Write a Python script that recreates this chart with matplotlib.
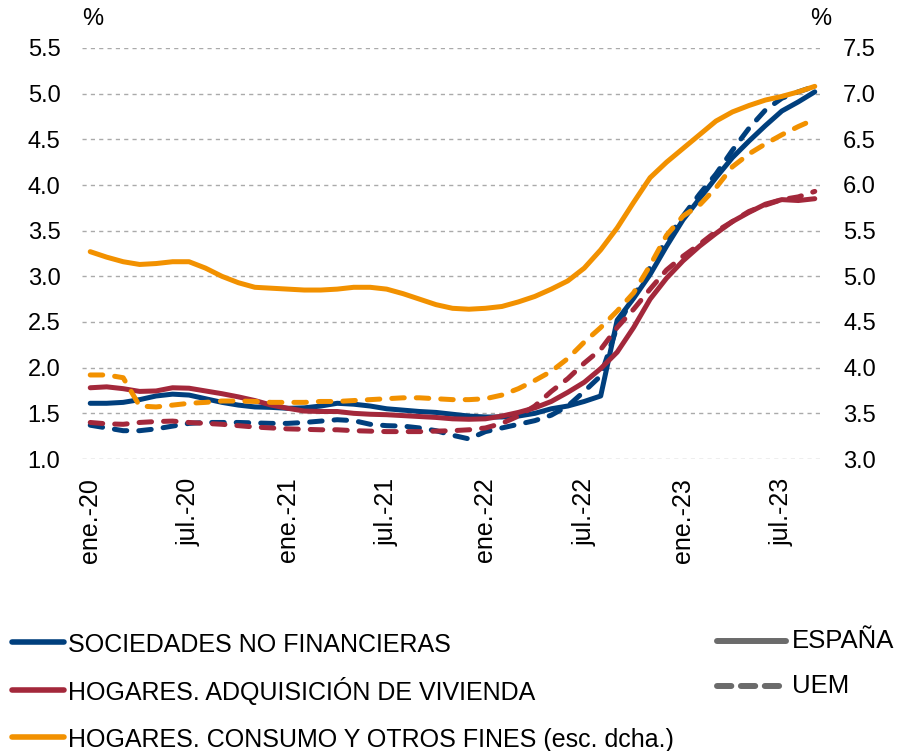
import matplotlib.pyplot as plt
from matplotlib.lines import Line2D
import numpy as np

plt.rcParams['font.family'] = ['Liberation Sans', 'DejaVu Sans']

# monthly, ene.-20 .. sep.-23
months = np.arange(45)
tick_pos = [0, 6, 12, 18, 24, 30, 36, 42]
tick_labels = ['ene.-20', 'jul.-20', 'ene.-21', 'jul.-21',
               'ene.-22', 'jul.-22', 'ene.-23', 'jul.-23']

# left axis (%)
snf_es = [1.61, 1.61, 1.62, 1.65, 1.69, 1.71, 1.70, 1.66, 1.62, 1.59,
          1.57, 1.565, 1.555, 1.56, 1.58, 1.61, 1.60, 1.58, 1.55, 1.535,
          1.52, 1.51, 1.49, 1.47, 1.46, 1.46, 1.47, 1.50, 1.55, 1.58,
          1.63, 1.69, 2.52, 2.76, 3.02, 3.33, 3.62, 3.85, 4.08, 4.30,
          4.48, 4.65, 4.81, 4.91, 5.02]
snf_uem = [1.37, 1.34, 1.31, 1.31, 1.33, 1.36, 1.39, 1.40, 1.40, 1.40,
           1.395, 1.39, 1.39, 1.40, 1.415, 1.43, 1.42, 1.38, 1.365, 1.36,
           1.34, 1.31, 1.26, 1.22, 1.30, 1.34, 1.38, 1.42, 1.48, 1.58,
           1.74, 1.91, 2.45, 2.78, 3.10, 3.40, 3.66, 3.90, 4.12, 4.38,
           4.62, 4.82, 4.95, 5.02, 5.08]
viv_es = [1.78, 1.79, 1.77, 1.74, 1.745, 1.78, 1.775, 1.745, 1.715, 1.68,
          1.64, 1.59, 1.555, 1.525, 1.52, 1.52, 1.50, 1.49, 1.485, 1.475,
          1.465, 1.455, 1.44, 1.435, 1.44, 1.47, 1.51, 1.56, 1.63, 1.73,
          1.84, 1.99, 2.17, 2.44, 2.75, 2.98, 3.17, 3.33, 3.47, 3.60,
          3.70, 3.79, 3.84, 3.83, 3.85]
viv_uem = [1.40, 1.385, 1.38, 1.40, 1.41, 1.415, 1.40, 1.39, 1.38, 1.365,
           1.35, 1.34, 1.33, 1.325, 1.32, 1.32, 1.31, 1.305, 1.30, 1.30,
           1.30, 1.305, 1.31, 1.32, 1.34, 1.39, 1.47, 1.58, 1.74, 1.88,
           2.05, 2.20, 2.44, 2.64, 2.86, 3.07, 3.22, 3.35, 3.49, 3.60,
           3.71, 3.78, 3.84, 3.87, 3.93]

# right axis (%)
cons_es = [5.27, 5.21, 5.16, 5.13, 5.14, 5.16, 5.16, 5.09, 5.00, 4.93,
           4.88, 4.87, 4.86, 4.85, 4.85, 4.86, 4.88, 4.88, 4.86, 4.81,
           4.75, 4.69, 4.65, 4.64, 4.65, 4.67, 4.72, 4.78, 4.86, 4.95,
           5.09, 5.29, 5.53, 5.81, 6.08, 6.25, 6.40, 6.55, 6.70, 6.80,
           6.87, 6.93, 6.97, 7.02, 7.08]
cons_uem = [3.92, 3.92, 3.89, 3.58, 3.57, 3.59, 3.61, 3.62, 3.635, 3.635,
            3.63, 3.62, 3.62, 3.62, 3.63, 3.63, 3.64, 3.65, 3.66, 3.67,
            3.67, 3.66, 3.65, 3.65, 3.66, 3.70, 3.77, 3.86, 3.96, 4.10,
            4.28, 4.44, 4.62, 4.82, 5.12, 5.45, 5.66, 5.78, 5.97, 6.20,
            6.34, 6.45, 6.55, 6.64, 6.72]

blue = '#003F7D'
red = '#A3283B'
orange = '#F29100'
grey = '#6B6B6B'
lw = 3.6
dash = (2.5, 2.4)

fig = plt.figure(figsize=(9, 7.51), dpi=100)
ax = fig.add_axes([82/900, 1 - 459/751, (823 - 82)/900, (459 - 48)/751])
ax2 = ax.twinx()

ax.plot(months, snf_es, color=blue, lw=lw, solid_capstyle='round')
ax.plot(months, snf_uem, color=blue, lw=lw, dashes=dash, dash_capstyle='round')
ax.plot(months, viv_es, color=red, lw=lw, solid_capstyle='round')
ax.plot(months, viv_uem, color=red, lw=lw, dashes=dash, dash_capstyle='round')
ax2.plot(months, cons_uem, color=orange, lw=lw, dashes=dash, dash_capstyle='round')
ax2.plot(months, cons_es, color=orange, lw=lw, solid_capstyle='round')

ax.set_xlim(-0.5, 44.5)
ax.set_ylim(1.0, 5.5)
ax2.set_ylim(3.0, 7.5)
ax.set_yticks(np.arange(1.0, 5.51, 0.5))
ax2.set_yticks(np.arange(3.0, 7.51, 0.5))
ax.yaxis.set_major_formatter('{x:.1f}')
ax2.yaxis.set_major_formatter('{x:.1f}')
ax.set_xticks(tick_pos)
ax.set_xticklabels(tick_labels, rotation=90)

ax.grid(axis='y', color='#AAAAAA', lw=1.0, ls=(0, (3, 3)))
ax.set_axisbelow(True)
for a in (ax, ax2):
    for s in a.spines.values():
        s.set_visible(False)
ax.tick_params(axis='x', length=0, pad=13.5, labelsize=18)
ax.tick_params(axis='y', length=0, pad=15.5, labelsize=17)
ax2.tick_params(axis='y', length=0, pad=14.5, labelsize=17)

fig.text(82/900, 1 - 19/751, '%', ha='left', va='center', fontsize=17)
fig.text(810/900, 1 - 19/751, '%', ha='left', va='center', fontsize=17)

# legend: series (left) and country (right)
series = [('SOCIEDADES NO FINANCIERAS', blue, 642, 652),
          ('HOGARES. ADQUISICIÓN DE VIVIENDA', red, 690, 700),
          ('HOGARES. CONSUMO Y OTROS FINES (esc. dcha.)', orange, 737, 747)]
for label, c, yl, yt in series:
    fig.add_artist(Line2D([12/900, 64/900], [1 - yl/751, 1 - yl/751],
                          transform=fig.transFigure, color=c, lw=4,
                          solid_capstyle='round'))
    fig.text(68/900, 1 - yt/751, label, ha='left', va='baseline', fontsize=18)

fig.add_artist(Line2D([717/900, 786/900], [1 - 641/751, 1 - 641/751],
                      transform=fig.transFigure, color=grey, lw=4.3,
                      solid_capstyle='round'))
fig.text(792/900, 1 - 648/751, 'ESPAÑA', ha='left', va='baseline', fontsize=18.5)
fig.add_artist(Line2D([717/900, 786/900], [1 - 686/751, 1 - 686/751],
                      transform=fig.transFigure, color=grey, lw=4.3,
                      dashes=(2.4, 1.6), dash_capstyle='round'))
fig.text(792/900, 1 - 693/751, 'UEM', ha='left', va='baseline', fontsize=18.5)

fig.savefig('out.png', dpi=100)
